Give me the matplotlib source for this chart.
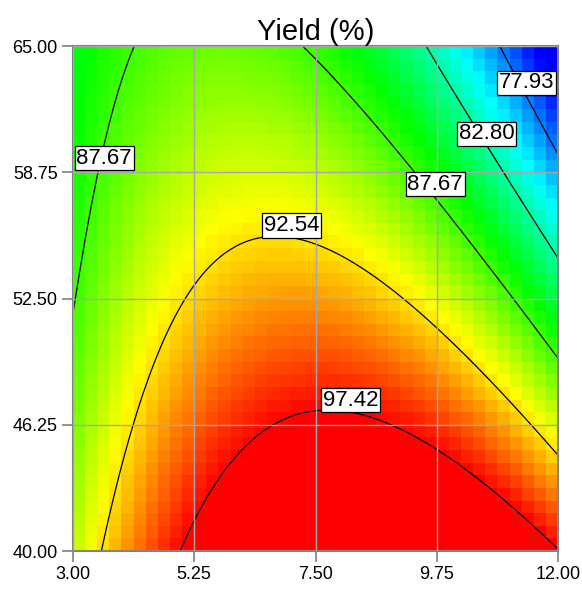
import numpy as np
import matplotlib
matplotlib.use('Agg')
import matplotlib.pyplot as plt
from matplotlib.colors import LinearSegmentedColormap

plt.rcParams['font.family'] = ['Liberation Sans', 'DejaVu Sans']

########################### Data ###############################

x_ticks   = [3.00, 5.25, 7.50, 9.75, 12.00]
y_ticks   = [40.00, 46.25, 52.50, 58.75, 65.00]
levels    = [77.93, 82.80, 87.67, 92.54, 97.42]

# traced points on each yield contour (x, y)
pts_7793  = [(10.92, 65.0), (12.0, 59.8)]
pts_8280  = [(9.56, 65.0), (10.86, 58.75), (11.63, 55.97), (12.0, 54.64)]
pts_8767  = [(3.0, 51.74), (3.30, 56.47), (3.45, 58.79), (3.81, 62.1), (4.13, 65.0),
             (7.30, 65.0), (9.34, 58.75), (9.75, 57.55), (11.17, 52.5), (12.0, 49.59)]
pts_9254  = [(3.53, 40.0), (4.15, 46.4), (4.37, 48.5), (5.07, 52.5), (6.71, 55.6),
             (7.5, 55.3), (9.10, 52.5), (9.75, 51.0), (10.74, 48.5), (11.39, 46.5),
             (12.0, 44.7)]
pts_9742  = [(4.98, 40.0), (5.25, 41.6), (6.0, 44.4), (7.64, 46.93), (9.75, 45.0),
             (10.8, 43.2), (12.0, 40.0)]

# label anchor for each contour
label_pos = {77.93: [(11.42, 63.18)], 82.80: [(10.68, 60.65)],
             87.67: [(3.58, 59.45), (9.72, 58.16)], 92.54: [(7.05, 56.12)],
             97.42: [(8.15, 47.47)]}

yield_min, yield_max = 75.2, 97.5

########################### Quadratic response surface #####################################

def coded(x, y):
    return (np.asarray(x) - 7.5) / 4.5, (np.asarray(y) - 52.5) / 12.5

def terms(x, y):
    A, B = coded(x, y)
    return np.stack([np.ones_like(A), A, B, A*B, A**2, B**2], axis=-1)

X, Z = [], []
for lev, pts in zip(levels, [pts_7793, pts_8280, pts_8767, pts_9254, pts_9742]):
    for px, py in pts:
        X.append(terms(px, py))
        Z.append(lev)
coef = np.linalg.lstsq(np.array(X), np.array(Z), rcond=None)[0]

def model(x, y):
    return terms(x, y) @ coef

########################### Plot #####################################

cmap = LinearSegmentedColormap.from_list('de', ['#0000ff', '#00ffff', '#00ff00', '#ffff00', '#ff0000'])

fig = plt.figure(figsize=(5.82, 5.93), dpi=100)
ax = fig.add_axes([0.1254, 0.0708, 0.8334, 0.8516])

nx, ny = 40, 40
xe = np.linspace(3.0, 12.0, nx + 1)
ye = np.linspace(40.0, 65.0, ny + 1)
xc = 0.5 * (xe[1:] + xe[:-1])
yc = 0.5 * (ye[1:] + ye[:-1])
XC, YC = np.meshgrid(xc, yc)
ax.pcolormesh(xe, ye, model(XC, YC), cmap=cmap, vmin=yield_min, vmax=yield_max, shading='flat')

xf = np.linspace(3.0, 12.0, 300)
yf = np.linspace(40.0, 65.0, 300)
XF, YF = np.meshgrid(xf, yf)
ax.contour(XF, YF, model(XF, YF), levels=levels, colors='black', linewidths=0.9)

for lev in levels:
    for lx, ly in label_pos[lev]:
        ax.text(lx, ly, '%.2f' % lev, fontsize=16, ha='center', va='center', zorder=5,
                bbox=dict(boxstyle='square,pad=0.08', fc='white', ec='black', lw=0.9))

ax.set_xlim(3.0, 12.0)
ax.set_ylim(40.0, 65.0)
ax.set_xticks(x_ticks)
ax.set_yticks(y_ticks)
ax.set_xticklabels(['%.2f' % v for v in x_ticks])
ax.set_yticklabels(['%.2f' % v for v in y_ticks])
ax.tick_params(direction='out', length=8, width=1.2, color='#808080', labelsize=13, pad=3)
ax.grid(color='#a8a8a8', linewidth=1.0)
ax.set_axisbelow(False)
for s in ax.spines.values():
    s.set_color('#808080')
    s.set_linewidth(1.5)
ax.set_title('Yield (%)', fontsize=21, pad=4)

plt.savefig('out.png', dpi=100)
